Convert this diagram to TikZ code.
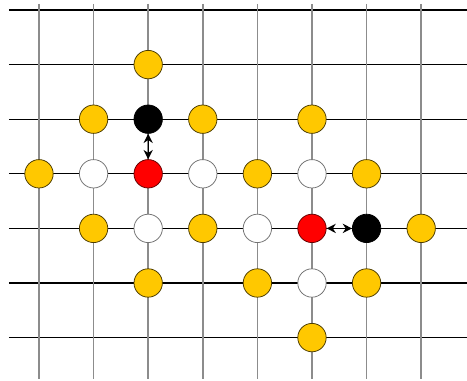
\documentclass[tikz,border=0pt]{standalone}
\usetikzlibrary{arrows.meta}
\definecolor{gold}{HTML}{FFC800}
\begin{document}
\begin{tikzpicture}[x=1cm,y=1cm]
% Vértices
\tikzset{vertex/.style={circle,draw,minimum size=5.2mm,inner sep=0pt,line width=.4pt},
  gold vertex/.style={vertex,fill=gold,draw=black!70!gold},
  white vertex/.style={vertex,fill=white,draw=black!55},
  red vertex/.style={vertex,fill=red,draw=black!60!red},
  black vertex/.style={vertex,fill=black,draw=black},
  swap arrow/.style={{Stealth[length=1.7mm,width=1.7mm]}-{Stealth[length=1.7mm,width=1.7mm]},line width=.7pt}}

\useasboundingbox (-0.714,0.183) rectangle (7.839,-6.795);

% rejilla
\foreach \y in {0,...,6}
  \draw[line width=.6pt] (-0.55,-\y) -- (7.84,-\y);
\foreach \x in {0,...,7}
  \draw[line width=.8pt,color=black!45] (\x,0.11) -- (\x,-6.76);

  \node[gold vertex] (g1) at (2,-1) {};
  \node[gold vertex] (g2) at (1,-2) {};
  \node[black vertex] (n1) at (2,-2) {};
  \node[gold vertex] (g3) at (3,-2) {};
  \node[gold vertex] (g4) at (5,-2) {};
  \node[gold vertex] (g5) at (0,-3) {};
  \node[white vertex] (w1) at (1,-3) {};
  \node[red vertex] (r1) at (2,-3) {};
  \node[white vertex] (w2) at (3,-3) {};
  \node[gold vertex] (g6) at (4,-3) {};
  \node[white vertex] (w3) at (5,-3) {};
  \node[gold vertex] (g7) at (6,-3) {};
  \node[gold vertex] (g8) at (1,-4) {};
  \node[white vertex] (w4) at (2,-4) {};
  \node[gold vertex] (g9) at (3,-4) {};
  \node[white vertex] (w5) at (4,-4) {};
  \node[red vertex] (r2) at (5,-4) {};
  \node[black vertex] (n2) at (6,-4) {};
  \node[gold vertex] (g10) at (7,-4) {};
  \node[gold vertex] (g11) at (2,-5) {};
  \node[gold vertex] (g12) at (4,-5) {};
  \node[white vertex] (w6) at (5,-5) {};
  \node[gold vertex] (g13) at (6,-5) {};
  \node[gold vertex] (g14) at (5,-6) {};

\draw[swap arrow] (n1) -- (r1);
\draw[swap arrow] (r2) -- (n2);

\end{tikzpicture}
\end{document}
